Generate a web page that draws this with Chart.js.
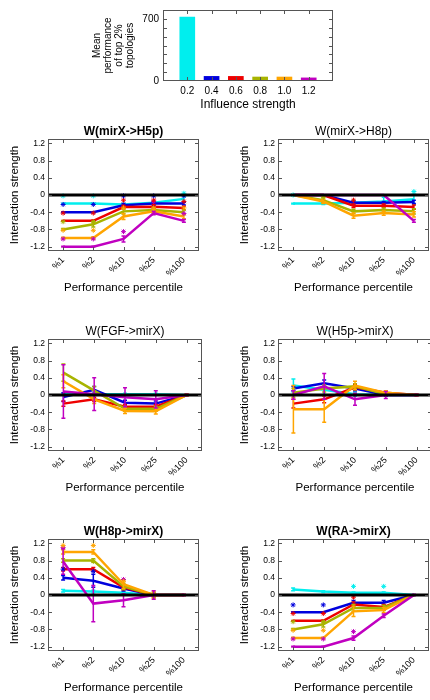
<!DOCTYPE html>
<html>
<head>
<meta charset="utf-8">
<script src="https://cdn.jsdelivr.net/npm/chart.js@4.4.0/dist/chart.umd.min.js"></script>
<style>
html, body { margin: 0; padding: 0; background: #fff; overflow: hidden; }
#wrap { position: relative; width: 430px; height: 700px; overflow: hidden; }
canvas { position: absolute; }
</style>
</head>
<body>
<div id="wrap">
  <canvas id="bars" width="430" height="115" style="left:0;top:0"></canvas>
  <canvas id="p1" width="204" height="180" style="left:0;top:120px"></canvas>
  <canvas id="p2" width="204" height="180" style="left:230px;top:120px"></canvas>
  <canvas id="p3" width="204" height="180" style="left:0;top:320px"></canvas>
  <canvas id="p4" width="204" height="180" style="left:230px;top:320px"></canvas>
  <canvas id="p5" width="204" height="180" style="left:0;top:520px"></canvas>
  <canvas id="p6" width="204" height="180" style="left:230px;top:520px"></canvas>
</div>
<script>
// --- DATOS ---
const percentiles = ['%1', '%2', '%10', '%25', '%100'];
const influenceStrength = [0.2, 0.4, 0.6, 0.8, 1.0, 1.2];
const meanPerformance = [720, 52, 52, 45, 45, 35];

// one row per influence strength (0.2 ... 1.2)
const mirxH5pMean = [
    [-0.2, -0.2, -0.22, -0.18, -0.09],
    [-0.4, -0.4, -0.24, -0.2, -0.2],
    [-0.6, -0.6, -0.28, -0.27, -0.3],
    [-0.8, -0.68, -0.38, -0.35, -0.4],
    [-1.0, -1.0, -0.5, -0.38, -0.5],
    [-1.2, -1.2, -1.02, -0.42, -0.6]
];
const mirxH5pErr = [
    [0.01, 0.01, 0.03, 0.03, 0.06],
    [0.01, 0.01, 0.04, 0.04, 0.03],
    [0.01, 0.02, 0.04, 0.05, 0.04],
    [0.02, 0.06, 0.06, 0.05, 0.05],
    [0.02, 0.03, 0.07, 0.05, 0.05],
    [0.01, 0.01, 0.07, 0.04, 0.03]
];
const mirxH5pStar = [
    [-0.02, -0.02, null, null, 0.04],
    [-0.22, -0.22, -0.02, -0.02, -0.02],
    [-0.42, -0.42, -0.12, -0.12, -0.15],
    [-0.62, -0.62, null, null, null],
    [-0.82, -0.82, -0.3, -0.3, -0.3],
    [-1.02, -1.02, -0.85, -0.15, -0.43]
];

const mirxH8pMean = [
    [-0.2, -0.2, -0.18, -0.15, -0.1],
    [0, 0, -0.18, -0.18, -0.16],
    [0, 0, -0.25, -0.25, -0.28],
    [0, -0.12, -0.38, -0.35, -0.38],
    [0, -0.15, -0.48, -0.42, -0.45],
    [0, 0, 0, 0, -0.6]
];
const mirxH8pErr = [
    [0.01, 0.02, 0.05, 0.1, 0.12],
    [0, 0, 0.03, 0.03, 0.04],
    [0, 0, 0.04, 0.04, 0.05],
    [0, 0.06, 0.05, 0.05, 0.06],
    [0, 0.05, 0.06, 0.05, 0.06],
    [0, 0, 0, 0, 0.03]
];
const mirxH8pStar = [
    [0, null, null, null, 0.08],
    [null, null, null, null, null],
    [null, null, -0.12, null, null],
    [null, -0.05, null, null, null],
    [null, null, null, null, null],
    [null, null, null, null, null]
];

const fgfMirxMean = [
    [0.02, 0.02, 0.02, 0.02, 0],
    [-0.05, 0.12, -0.18, -0.2, 0],
    [-0.2, -0.1, -0.27, -0.27, 0],
    [0.52, 0.1, -0.32, -0.32, 0],
    [0.32, -0.1, -0.37, -0.38, 0],
    [0.08, 0.02, -0.05, -0.1, 0]
];
const fgfMirxErr = [
    [0.02, 0.02, 0.02, 0.02, 0],
    [0.1, 0.08, 0.06, 0.06, 0],
    [0.06, 0.05, 0.05, 0.05, 0.02],
    [0.2, 0.1, 0.06, 0.06, 0.02],
    [0.15, 0.1, 0.06, 0.06, 0.02],
    [0.62, 0.38, 0.22, 0.2, 0.02]
];

const h5pMirxMean = [
    [0.22, 0.12, 0.02, 0, 0],
    [0.15, 0.27, 0.15, 0, 0],
    [-0.2, -0.1, 0.18, 0.05, 0],
    [0.05, 0.15, 0.2, 0.02, 0],
    [-0.33, -0.33, 0.22, 0.05, 0],
    [0, 0.2, -0.1, 0, 0]
];
const h5pMirxErr = [
    [0.15, 0.1, 0.05, 0.03, 0],
    [0.05, 0.08, 0.05, 0.03, 0],
    [0.1, 0.08, 0.06, 0.04, 0.02],
    [0.1, 0.08, 0.06, 0.03, 0],
    [0.55, 0.3, 0.1, 0.05, 0.02],
    [0.1, 0.3, 0.14, 0.08, 0.02]
];

const h8pMirxMean = [
    [0.1, 0.08, 0.05, 0, 0],
    [0.4, 0.33, 0.15, 0, 0],
    [0.6, 0.6, 0.18, 0, 0],
    [0.8, 0.8, 0.2, 0, 0],
    [1.0, 1.0, 0.25, 0, 0],
    [0.78, -0.2, -0.12, 0, 0]
];
const h8pMirxErr = [
    [0.03, 0.03, 0.02, 0.02, 0],
    [0.05, 0.15, 0.06, 0.03, 0],
    [0.04, 0.04, 0.06, 0.04, 0],
    [0.04, 0.04, 0.07, 0.05, 0],
    [0.05, 0.05, 0.1, 0.08, 0.02],
    [0.3, 0.42, 0.15, 0.1, 0.02]
];
const h8pMirxStar = [
    [null, null, null, null, null],
    [0.6, 0.55, null, null, null],
    [null, null, null, null, null],
    [null, 0.78, null, null, null],
    [1.15, 1.15, 0.32, null, null],
    [1.1, null, 0.36, null, null]
];

const raMirxMean = [
    [0.13, 0.08, 0.05, 0.05, 0],
    [-0.4, -0.4, -0.18, -0.18, 0],
    [-0.6, -0.6, -0.22, -0.28, 0],
    [-0.8, -0.68, -0.3, -0.3, 0],
    [-1.0, -1.0, -0.38, -0.35, 0],
    [-1.2, -1.2, -1.0, -0.48, 0]
];
const raMirxErr = [
    [0.03, 0.02, 0.02, 0.02, 0],
    [0.01, 0.01, 0.05, 0.05, 0],
    [0.01, 0.02, 0.06, 0.06, 0],
    [0.02, 0.06, 0.08, 0.06, 0],
    [0.02, 0.02, 0.12, 0.06, 0],
    [0.01, 0.01, 0.05, 0.04, 0.02]
];
const raMirxStar = [
    [null, null, 0.2, 0.2, null],
    [-0.23, -0.23, null, null, null],
    [-0.43, -0.43, -0.05, null, null],
    [-0.62, -0.62, null, null, null],
    [-0.82, -0.82, null, null, null],
    [-1.02, -1.02, -0.85, null, null]
];

// --- ESTILO ---
const seriesColors = ['#00eeee', '#0000dd', '#ee0000', '#a8b400', '#ffa500', '#c000c0'];
Chart.defaults.font.family = '"Liberation Sans", Arial, sans-serif';
Chart.defaults.color = '#000';

// gnuplot style border with inward ticks, plus the thick zero line
const framePlugin = {
    id: 'frame',
    afterDatasetsDraw(chart, args, opts) {
        const ctx = chart.ctx;
        const a = chart.chartArea;
        const xs = chart.scales.x, ys = chart.scales.y;
        ctx.save();
        if (opts.zeroLine) {
            const py = ys.getPixelForValue(0);
            ctx.strokeStyle = '#000';
            ctx.lineWidth = 3;
            ctx.beginPath();
            ctx.moveTo(a.left, py);
            ctx.lineTo(a.right, py);
            ctx.stroke();
        }
        ctx.strokeStyle = '#555';
        ctx.lineWidth = 1;
        ctx.strokeRect(a.left + 0.5, a.top + 0.5, a.right - a.left - 1, a.bottom - a.top - 1);
        const L = 4;
        ctx.beginPath();
        xs.ticks.forEach((t, i) => {
            const px = Math.round(xs.getPixelForTick(i)) + 0.5;
            if (px < a.left + 2 || px > a.right - 2) return;
            ctx.moveTo(px, a.bottom); ctx.lineTo(px, a.bottom - L);
            ctx.moveTo(px, a.top); ctx.lineTo(px, a.top + L);
        });
        ys.ticks.forEach((t, i) => {
            const py = Math.round(ys.getPixelForTick(i)) + 0.5;
            if (py < a.top + 2 || py > a.bottom - 2) return;
            ctx.moveTo(a.left, py); ctx.lineTo(a.left + L, py);
            ctx.moveTo(a.right, py); ctx.lineTo(a.right - L, py);
        });
        ctx.stroke();
        ctx.restore();
    }
};

const errorBarPlugin = {
    id: 'errorBars',
    afterDatasetDraw(chart, args) {
        const ds = chart.data.datasets[args.index];
        if (!ds.errors) return;
        const ys = chart.scales.y, ctx = chart.ctx;
        ctx.save();
        ctx.strokeStyle = ds.borderColor;
        ctx.lineWidth = 1.5;
        args.meta.data.forEach((pt, i) => {
            const e = ds.errors[i], v = ds.data[i];
            if (!e || v == null) return;
            const top = ys.getPixelForValue(v + e), bot = ys.getPixelForValue(v - e);
            ctx.beginPath();
            ctx.moveTo(pt.x, top); ctx.lineTo(pt.x, bot);
            ctx.moveTo(pt.x - 2, top); ctx.lineTo(pt.x + 2, top);
            ctx.moveTo(pt.x - 2, bot); ctx.lineTo(pt.x + 2, bot);
            ctx.stroke();
        });
        ctx.restore();
    }
};

Chart.register(framePlugin, errorBarPlugin);

// --- GRÁFICO DE BARRAS ---
new Chart(document.getElementById('bars'), {
    type: 'bar',
    data: {
        datasets: [{
            data: influenceStrength.map((x, i) => ({ x: x, y: meanPerformance[i] })),
            backgroundColor: seriesColors,
            barThickness: 15
        }]
    },
    options: {
        responsive: false,
        animation: false,
        layout: { padding: { top: 8, right: 97 } },
        plugins: { legend: { display: false }, tooltip: { enabled: false }, frame: { zeroLine: false } },
        scales: {
            x: {
                type: 'linear', min: 0, max: 1.4, offset: false,
                grid: { display: false, drawTicks: false },
                border: { display: false },
                ticks: {
                    stepSize: 0.2, autoSkip: false, maxRotation: 0, padding: 4,
                    font: { size: 10 },
                    callback: v => (v < 0.1 || v > 1.3) ? '' : v.toFixed(1)
                },
                title: { display: true, text: 'Influence strength', font: { size: 12 }, padding: { top: 0, bottom: 3 } },
                afterFit(s) { s.height = 34; }
            },
            y: {
                min: 0, max: 800,
                grid: { display: false, drawTicks: false },
                border: { display: false },
                ticks: {
                    stepSize: 100, autoSkip: false, padding: 4,
                    font: { size: 10 },
                    callback: v => (v === 0 || v === 700) ? String(v) : ''
                },
                title: {
                    display: true,
                    text: ['Mean', 'performance', 'of top 2%', 'topologies'],
                    font: { size: 10, lineHeight: 1.1 },
                    padding: { top: 92, bottom: 0 }
                },
                afterFit(s) { s.width = 163; }
            }
        }
    }
});

// --- PANELES DE INTERACCIÓN ---
function dibujarPanel(id, titulo, negrita, medias, errores, estrellas) {
    const datasets = [];
    medias.forEach((m, i) => {
        datasets.push({
            data: m,
            errors: errores[i],
            xAxisID: 'x',
            borderColor: seriesColors[i],
            backgroundColor: seriesColors[i],
            borderWidth: 2.5,
            pointRadius: 0,
            order: 6 - i
        });
    });
    if (estrellas) {
        estrellas.forEach((s, i) => {
            datasets.push({
                data: s,
                xAxisID: 'x',
                showLine: false,
                pointStyle: 'star',
                pointRadius: 2.5,
                borderWidth: 1,
                borderColor: seriesColors[i],
                backgroundColor: seriesColors[i],
                order: 0
            });
        });
    }
    new Chart(document.getElementById(id), {
        type: 'line',
        data: { labels: percentiles, datasets: datasets },
        options: {
            responsive: false,
            animation: false,
            layout: { padding: { right: 2 } },
            plugins: { legend: { display: false }, tooltip: { enabled: false }, frame: { zeroLine: true } },
            scales: {
                x: {
                    type: 'category', offset: true,
                    grid: { display: false, drawTicks: false },
                    border: { display: false },
                    ticks: { minRotation: 45, maxRotation: 45, padding: 4, font: { size: 9 } },
                    title: { display: true, text: 'Performance percentile', font: { size: 11.5 }, padding: { top: 0, bottom: 5 } },
                    afterFit(s) { s.height = 49; }
                },
                x2: {
                    type: 'category', position: 'top', labels: percentiles,
                    grid: { display: false, drawTicks: false },
                    border: { display: false },
                    ticks: { display: false },
                    title: {
                        display: true, text: titulo,
                        font: { size: 12, weight: negrita ? 'bold' : 'normal' },
                        padding: { top: 4, bottom: 0 }
                    },
                    afterFit(s) { s.height = 19; }
                },
                y: {
                    min: -1.3, max: 1.3,
                    grid: { display: false, drawTicks: false },
                    border: { display: false },
                    ticks: {
                        stepSize: 0.4, includeBounds: false, padding: 3,
                        font: { size: 8.5 },
                        callback: v => Math.abs(v) < 1e-9 ? '0' : v.toFixed(1)
                    },
                    title: { display: true, text: 'Interaction strength', font: { size: 11.5 }, padding: { top: 8, bottom: 0 } },
                    afterFit(s) { s.width = 48; }
                }
            }
        }
    });
}

dibujarPanel('p1', 'W(mirX->H5p)', true, mirxH5pMean, mirxH5pErr, mirxH5pStar);
dibujarPanel('p2', 'W(mirX->H8p)', false, mirxH8pMean, mirxH8pErr, mirxH8pStar);
dibujarPanel('p3', 'W(FGF->mirX)', false, fgfMirxMean, fgfMirxErr, null);
dibujarPanel('p4', 'W(H5p->mirX)', false, h5pMirxMean, h5pMirxErr, null);
dibujarPanel('p5', 'W(H8p->mirX)', true, h8pMirxMean, h8pMirxErr, h8pMirxStar);
dibujarPanel('p6', 'W(RA->mirX)', true, raMirxMean, raMirxErr, raMirxStar);
</script>
</body>
</html>
